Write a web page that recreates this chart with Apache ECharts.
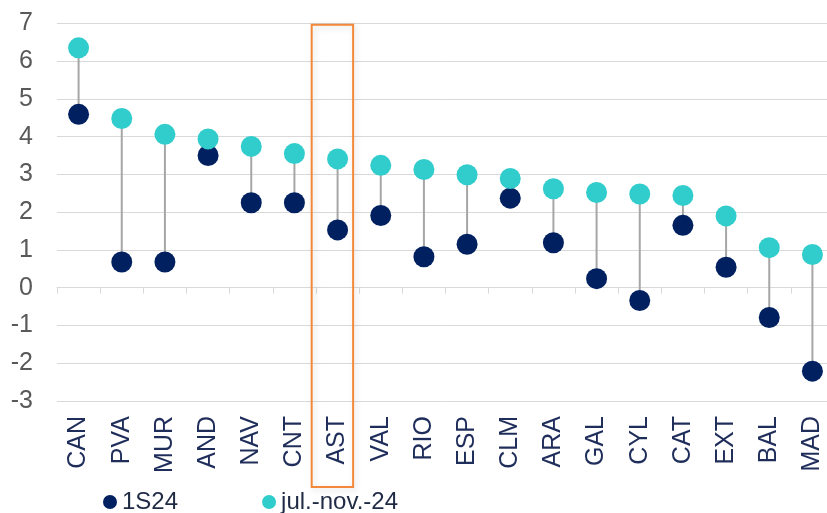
<!DOCTYPE html>
<html>
<head>
<meta charset="utf-8">
<script src="https://cdn.jsdelivr.net/npm/echarts@6/dist/echarts.min.js"></script>
<style>
html,body{margin:0;padding:0;background:#fff;}
#chart{width:827px;height:513px;}
</style>
</head>
<body>
<div id="chart"></div>
<script>
const categories = ['CAN','PVA','MUR','AND','NAV','CNT','AST','VAL','RIO','ESP','CLM','ARA','GAL','CYL','CAT','EXT','BAL','MAD'];
const s1S24 = [4.59,0.68,0.68,3.50,2.25,2.25,1.53,1.91,0.82,1.15,2.37,1.19,0.24,-0.34,1.65,0.54,-0.79,-2.21];
const sJulNov = [6.35,4.48,4.06,3.94,3.74,3.55,3.41,3.24,3.13,2.99,2.89,2.62,2.52,2.48,2.44,1.90,1.06,0.88];
const yTicks = [-3,-2,-1,0,1,2,3,4,5,6,7];
const highlightCategory = 'AST';

const FONT = 'Liberation Sans, Arial, sans-serif';
const chart = echarts.init(document.getElementById('chart'), null, {renderer: 'canvas'});

const stemData = categories.map((c, i) => [i, s1S24[i], sJulNov[i]]);

const option = {
  animation: false,
  backgroundColor: '#ffffff',
  grid: {left: 57, right: -7, top: 23.3, bottom: 112, containLabel: false, outerBoundsMode: 'none'},
  legend: {
    left: 98, top: 485,
    itemWidth: 14, itemHeight: 14, itemGap: 84,
    icon: 'circle',
    textStyle: {fontFamily: FONT, fontSize: 24, color: '#1f2a44', lineHeight: 24, padding: [0,0,0,0]},
    data: ['1S24', 'jul.-nov.-24']
  },
  xAxis: [
    {
      type: 'category', data: categories, position: 'bottom',
      axisLine: {show: true, onZero: true, lineStyle: {color: '#d9d9d9', width: 1}},
      axisTick: {show: true, length: 6, alignWithLabel: false, lineStyle: {color: '#d9d9d9'}},
      axisLabel: {show: false},
      splitLine: {show: false}
    },
    {
      type: 'category', data: categories, position: 'bottom',
      axisLine: {show: false, onZero: false},
      axisTick: {show: false},
      axisLabel: {rotate: 90, margin: 15, fontFamily: FONT, fontSize: 25, color: '#1f2d5a', interval: 0},
      splitLine: {show: false}
    }
  ],
  yAxis: {
    type: 'value', min: -3, max: 7, interval: 1,
    axisLine: {show: false}, axisTick: {show: false},
    axisLabel: {margin: 24, fontFamily: FONT, fontSize: 25, color: '#595959',
      formatter: v => yTicks.includes(v) ? String(v) : ''},
    splitLine: {show: true, lineStyle: {color: '#d9d9d9', width: 1}}
  },
  series: [
    {
      type: 'custom', name: 'stem', xAxisIndex: 0, z: 1, silent: true,
      data: stemData,
      renderItem: function (params, api) {
        const p1 = api.coord([api.value(0), api.value(1)]);
        const p2 = api.coord([api.value(0), api.value(2)]);
        return {type: 'line', shape: {x1: p1[0], y1: p1[1], x2: p2[0], y2: p2[1]},
          style: {stroke: '#a6a6a6', lineWidth: 2}};
      }
    },
    {
      type: 'scatter', name: '1S24', xAxisIndex: 0, z: 3,
      symbol: 'circle', symbolSize: 21,
      itemStyle: {color: '#002060', opacity: 1},
      data: s1S24
    },
    {
      type: 'scatter', name: 'jul.-nov.-24', xAxisIndex: 0, z: 4,
      symbol: 'circle', symbolSize: 21,
      itemStyle: {color: '#31cccc', opacity: 1},
      data: sJulNov
    }
  ]
};
chart.setOption(option);

// Highlight box around the selected category, positioned from the axis scale
const idx = categories.indexOf(highlightCategory);
const cx = chart.convertToPixel({xAxisIndex: 0}, idx);
const step = chart.convertToPixel({xAxisIndex: 0}, 1) - chart.convertToPixel({xAxisIndex: 0}, 0);
const topY = chart.convertToPixel({yAxisIndex: 0}, 7) + 1.5;
const x0 = cx - step * 0.60;
const x1 = cx + step * 0.36;
chart.setOption({
  graphic: [{
    type: 'rect', z: 10,
    shape: {x: x0, y: topY, width: x1 - x0, height: 487 - topY},
    style: {fill: 'rgba(0,0,0,0)', stroke: '#f4883a', lineWidth: 2,
      shadowBlur: 6, shadowColor: 'rgba(0,0,0,0.15)', shadowOffsetX: 2, shadowOffsetY: 2}
  }]
});
</script>
</body>
</html>
